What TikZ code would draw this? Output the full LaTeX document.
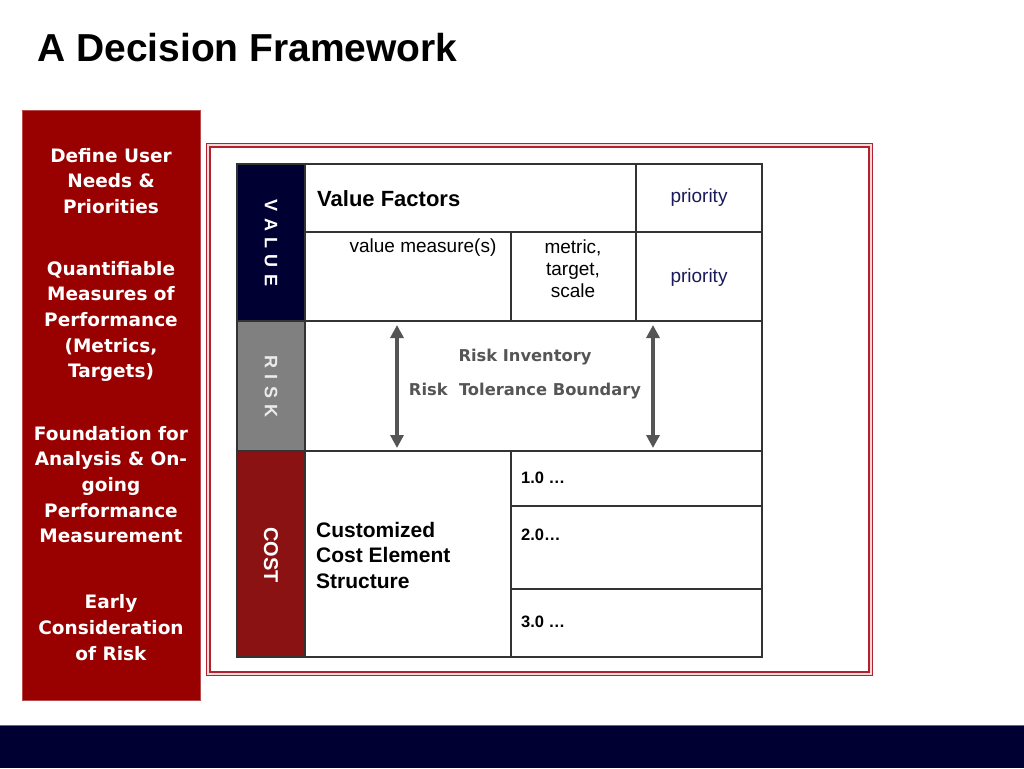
\documentclass[tikz,border=0pt]{standalone}
\usepackage{fontspec}
\setmainfont{Liberation Sans}
\newfontfamily\panelfont{DejaVu Sans}
\usetikzlibrary{arrows.meta}
\definecolor{navy}{HTML}{000033}
\definecolor{panelred}{HTML}{990000}
\definecolor{costred}{HTML}{8A1212}
\definecolor{riskgray}{HTML}{808080}
\definecolor{arrowgray}{HTML}{555555}
\definecolor{framered}{HTML}{B0222C}
\definecolor{framepink}{HTML}{F6D8DA}
\definecolor{priocol}{HTML}{1A1A5C}
\newcommand\gap{\kern6.3pt}
\tikzset{
  panel/.style={align=center,text=white,font=\panelfont\bfseries\fontsize{18.5}{25.7}\selectfont},
  side/.style={rotate=-90,text=white,font=\bfseries\fontsize{18}{20}\selectfont},
  cell/.style={font=\fontsize{19}{22}\selectfont},
  costnum/.style={anchor=west,inner sep=0,font=\bfseries\fontsize{16.5}{18}\selectfont},
  risktext/.style={text=arrowgray,font=\panelfont\bfseries\fontsize{16.3}{20}\selectfont},
  grid/.style={draw=black!80,line width=1.6pt},
  riskarrow/.style={arrowgray,line width=4.5pt,{Triangle[length=13pt,width=13pt]}-{Triangle[length=13pt,width=13pt]}}
}
\begin{document}
\begin{tikzpicture}[x=1pt,y=-1pt]
  \useasboundingbox (0,0) rectangle (1024,768);
  % title
  \node[anchor=base west,inner sep=0,font=\bfseries\fontsize{39}{44}\selectfont] (title) at (37,62) {A Decision Framework};
  % left panel
  \fill[panelred,draw=panelred!70] (22,110) rectangle (200,700);
  \node[panel] (needs) at (111,181) {Define User\\Needs \&\\Priorities};
  \node[panel] (measures) at (111,321.5) {Quantifiable\\Measures of\\Performance\\(Metrics,\\Targets)};
  \node[panel] (foundation) at (111,484.5) {Foundation for\\Analysis \& On-\\going\\Performance\\Measurement};
  \node[panel] (early) at (111,627.5) {Early\\Consideration\\of Risk};
  % double frame
  \draw[framepink,line width=3.5pt] (208.3,145.3) rectangle (870.7,673.7);
  \draw[framered,line width=1.2pt] (206.5,143.5) rectangle (872.5,675.5);
  \draw[framered,line width=1.2pt] (210,147) rectangle (869,672);
  % side column
  \fill[navy] (237,164) rectangle (305,321);
  \fill[riskgray] (237,321) rectangle (305,451);
  \fill[costred] (237,451) rectangle (305,657);
  \node[side] (value) at (271,243) {V\gap A\gap L\gap U\gap E};
  \node[side,text=white!92!black] (risk) at (271,386.5) {R\gap I\gap S\gap K};
  \node[side,font=\bfseries\fontsize{20}{22}\selectfont] (cost) at (271,555) {COST};
  % grid lines
  \draw[grid] (237,164) rectangle (762,657);
  \draw[grid] (305,164) -- (305,657);
  \draw[grid] (305,232) -- (762,232);
  \draw[grid] (636,164) -- (636,321);
  \draw[grid] (511,232) -- (511,321);
  \draw[grid] (237,321) -- (762,321);
  \draw[grid] (237,451) -- (762,451);
  \draw[grid] (511,451) -- (511,657);
  \draw[grid] (511,506) -- (762,506);
  \draw[grid] (511,589) -- (762,589);
  % value cells
  \node[anchor=west,inner sep=0,font=\bfseries\fontsize{22}{26}\selectfont] (factors) at (317,199) {Value Factors};
  \node[cell,text=priocol] (prio1) at (699,198) {priority};
  \node[cell] (measure) at (423,248) {value measure(s)};
  \node[cell,align=center] (metric) at (573,269) {metric,\\target,\\scale};
  \node[cell,text=priocol] (prio2) at (699,278) {priority};
  % risk cell
  \coordinate (lefttop) at (397,325);
  \coordinate (leftbot) at (397,448);
  \coordinate (righttop) at (653,325);
  \coordinate (rightbot) at (653,448);
  \draw[riskarrow] (lefttop) -- (leftbot);
  \draw[riskarrow] (righttop) -- (rightbot);
  \node[risktext] (inventory) at (525,357) {Risk Inventory};
  \node[risktext] (tolerance) at (525,391) {Risk\ \ Tolerance Boundary};
  % cost cells
  \node[anchor=west,inner sep=0,align=left,font=\bfseries\fontsize{21}{25.5}\selectfont] (structure) at (316,555) {Customized\\Cost Element\\Structure};
  \node[costnum] (one) at (521,478) {1.0 …};
  \node[costnum] (two) at (521,535) {2.0…};
  \node[costnum] (three) at (521,622) {3.0 …};
  % bottom bar
  \fill[navy] (0,725) rectangle (1024,768);
  \draw[navy!60!white,line width=0.8pt] (0,725) -- (1024,725);
\end{tikzpicture}
\end{document}
